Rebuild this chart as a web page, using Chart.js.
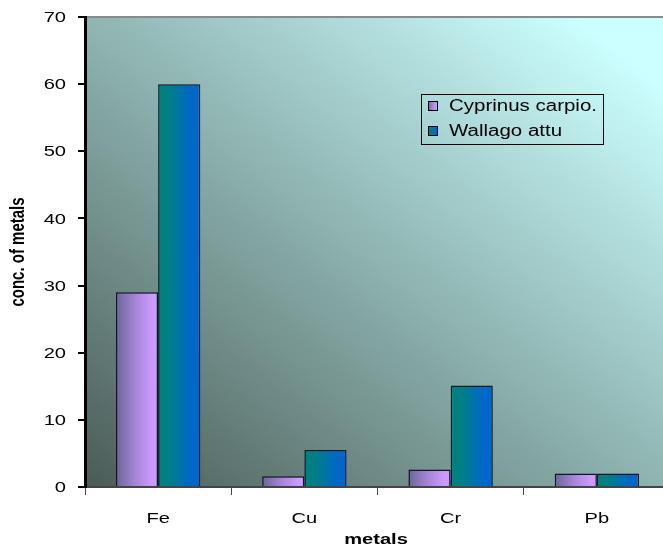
<!DOCTYPE html>
<html>
<head>
<meta charset="utf-8">
<script src="https://cdn.jsdelivr.net/npm/chart.js@4/dist/chart.umd.min.js"></script>
<style>
  html, body { margin: 0; padding: 0; background: #fff; overflow: hidden; }
  #wrap { width: 663px; height: 550px; overflow: hidden; position: relative; }
  #box { width: 670px; height: 550px; position: absolute; left: 0; top: 0; }
</style>
</head>
<body>
<div id="wrap"><div id="box"><canvas id="c"></canvas></div></div>
<script>
// Metal concentrations in two fish species
const metals = ['Fe', 'Cu', 'Cr', 'Pb'];
const cyprinus = [29.0, 1.6, 2.6, 2.0];
const wallago = [60.0, 5.5, 15.1, 2.0];
const seriesNames = ['Cyprinus carpio.', 'Wallago attu'];
const yTicks = [0, 10, 20, 30, 40, 50, 60, 70];
const xTitle = 'metals';
const yTitle = 'conc. of metals';

const FONT = '"Liberation Sans", Arial, sans-serif';
const CAT_PCT = 0.577;
const STRETCH = 1.34;   // wide, horizontally stretched lettering

// Horizontal gradient stops for each series
const gradStops = [
  [[0, '#6a6598'], [0.45, '#a585d6'], [0.85, '#cc99ff'], [1, '#cc99ff']],
  [[0, '#008080'], [0.25, '#007f84'], [0.75, '#0068c8'], [1, '#0066cc']]
];

function barGradient(ctx, dsIndex, x0, x1) {
  const g = ctx.createLinearGradient(x0, 0, x1, 0);
  gradStops[dsIndex].forEach(s => g.addColorStop(s[0], s[1]));
  return g;
}

function barFill(context) {
  const chart = context.chart;
  const xs = chart.scales.x;
  if (!chart.chartArea || !xs) return gradStops[context.datasetIndex][2][1];
  const center = xs.getPixelForValue(context.dataIndex);
  const half = (xs.width / metals.length) * CAT_PCT / 2;
  const x0 = context.datasetIndex === 0 ? center - half : center;
  return barGradient(chart.ctx, context.datasetIndex, x0, x0 + half);
}

// Text with a horizontal stretch applied around its anchor point
function wideText(ctx, text, x, y, align, font, sx, rotate) {
  ctx.save();
  ctx.translate(x, y);
  ctx.scale(sx, 1);
  if (rotate) ctx.rotate(-Math.PI / 2);
  ctx.font = font;
  ctx.textAlign = align;
  ctx.textBaseline = 'middle';
  ctx.fillStyle = '#000';
  ctx.fillText(text, 0, 0);
  ctx.restore();
}

// Diagonal plot-area background, dark lower-left to pale cyan upper-right
const plotBackground = {
  id: 'plotBackground',
  beforeDraw(chart) {
    const { ctx, chartArea: a } = chart;
    const g = ctx.createLinearGradient(a.left, a.bottom, a.left + (a.bottom - a.top) * 0.9, a.bottom - (a.right - a.left) * 0.9);
    g.addColorStop(0, '#4a5b57');
    g.addColorStop(0.5, '#8aaeab');
    g.addColorStop(1, '#ccffff');
    ctx.save();
    ctx.fillStyle = g;
    ctx.fillRect(a.left, a.top, a.right - a.left, a.bottom - a.top);
    ctx.strokeStyle = '#8a8a8a';
    ctx.lineWidth = 2;
    ctx.beginPath();
    ctx.moveTo(a.left, a.top);
    ctx.lineTo(a.right, a.top);
    ctx.stroke();
    ctx.restore();
  }
};

// Tick labels and axis titles, placed from the chart's own scales
const axisText = {
  id: 'axisText',
  afterDraw(chart) {
    const ctx = chart.ctx;
    const xs = chart.scales.x, ys = chart.scales.y, a = chart.chartArea;
    const tickFont = '15px ' + FONT;
    yTicks.forEach(v => wideText(ctx, String(v), a.left - 19, ys.getPixelForValue(v) + 1, 'right', tickFont, STRETCH));
    metals.forEach((m, i) => wideText(ctx, m, xs.getPixelForValue(i), a.bottom + 32, 'center', tickFont, STRETCH));
    wideText(ctx, xTitle, (a.left + 663) / 2 + 2, a.bottom + 53, 'center', 'bold 15px ' + FONT, STRETCH);
    wideText(ctx, yTitle, 18, (a.top + a.bottom) / 2, 'center', 'bold 15px ' + FONT, 1.35, true);
  }
};

// Legend box drawn inside the plot area
const innerLegend = {
  id: 'innerLegend',
  afterDraw(chart) {
    const ctx = chart.ctx;
    const left = 421, top = 94, w = 182, h = 50;
    ctx.save();
    ctx.strokeStyle = '#000';
    ctx.lineWidth = 1;
    ctx.strokeRect(left + 0.5, top + 0.5, w, h);
    chart.data.datasets.forEach((ds, i) => {
      const cy = top + 12 + i * 25;
      const sx = left + 7, sy = cy - 5;
      ctx.fillStyle = barGradient(ctx, i, sx, sx + 10);
      ctx.fillRect(sx, sy, 10, 10);
      ctx.strokeStyle = '#000';
      ctx.strokeRect(sx + 0.5, sy + 0.5, 9, 9);
      wideText(ctx, ds.label, left + 28, cy + 1, 'left', '16px ' + FONT, 1.28);
    });
    ctx.restore();
  }
};

new Chart(document.getElementById('c'), {
  type: 'bar',
  data: {
    labels: metals,
    datasets: [
      { label: seriesNames[0], data: cyprinus, backgroundColor: barFill, borderColor: '#15151f', borderWidth: 1.5 },
      { label: seriesNames[1], data: wallago, backgroundColor: barFill, borderColor: '#0a1a22', borderWidth: 1.5 }
    ]
  },
  options: {
    responsive: true,
    maintainAspectRatio: false,
    animation: false,
    datasets: { bar: { categoryPercentage: CAT_PCT, barPercentage: 1.0 } },
    layout: { padding: { top: 17, right: 0, left: 78, bottom: 55 } },
    plugins: { legend: { display: false }, tooltip: { enabled: false } },
    scales: {
      x: {
        grid: { drawOnChartArea: false, drawTicks: true, tickLength: 8, color: '#444', offset: true },
        border: { color: '#444', width: 2 },
        ticks: { display: false },
        title: { display: false }
      },
      y: {
        min: 0, max: 70,
        afterBuildTicks(scale) { scale.ticks = yTicks.map(v => ({ value: v })); },
        grid: { drawOnChartArea: false, drawTicks: true, tickLength: 7, color: '#000', lineWidth: 2 },
        border: { color: '#000', width: 3 },
        ticks: { display: false },
        title: { display: false }
      }
    }
  },
  plugins: [plotBackground, axisText, innerLegend]
});
</script>
</body>
</html>
